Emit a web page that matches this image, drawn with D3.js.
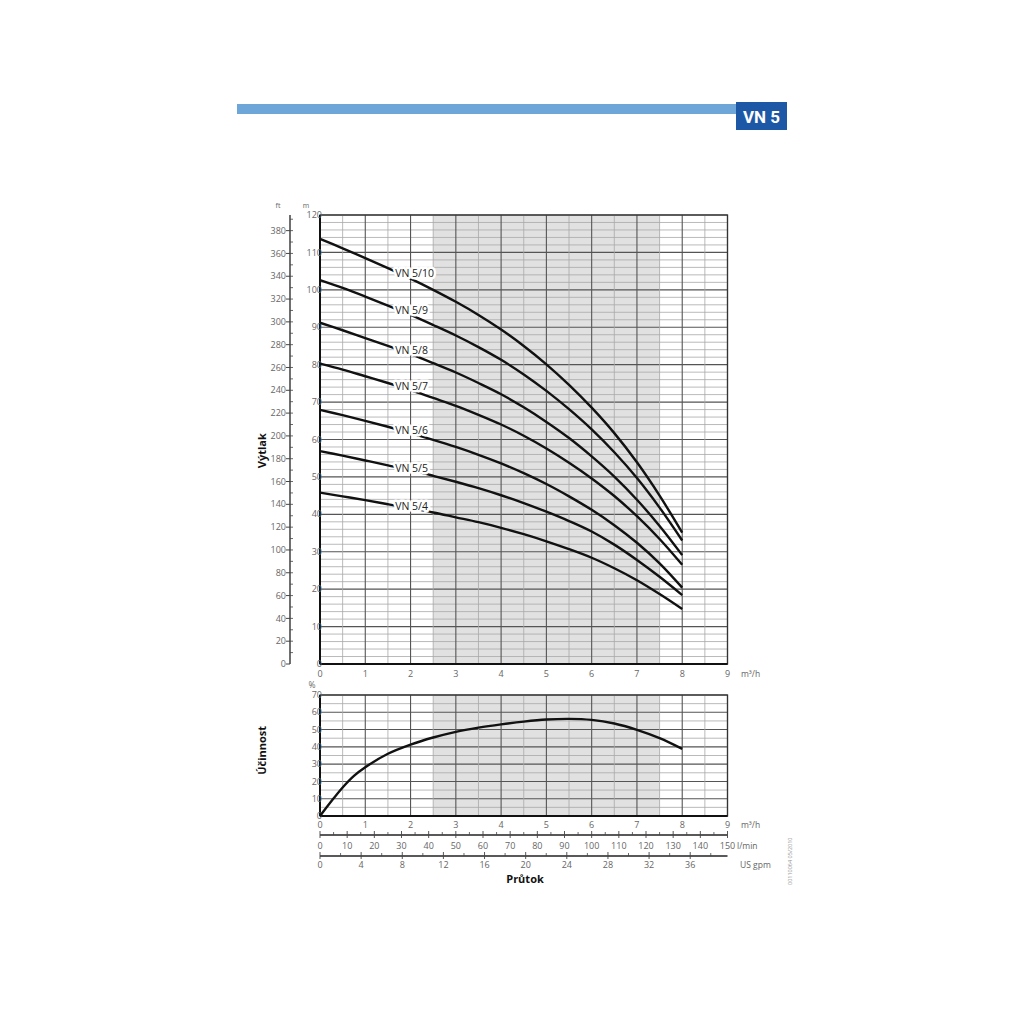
<!DOCTYPE html>
<html>
<head>
<meta charset="utf-8">
<script src="https://cdn.jsdelivr.net/npm/d3@7"></script>
<style>
  body { margin: 0; background: #fff; }
  svg { display: block; font-family: "Open Sans", "DejaVu Sans", sans-serif; }
</style>
</head>
<body>
<svg id="chart" width="1024" height="1024"></svg>
<script>
// flow points (m3/h) where the head curves were read
const flows = [0, 0.5, 1, 1.5, 2, 2.5, 3, 3.5, 4, 4.5, 5, 5.5, 6, 6.5, 7, 7.5, 8];
const pumpNames = ['VN 5/10', 'VN 5/9', 'VN 5/8', 'VN 5/7', 'VN 5/6', 'VN 5/5', 'VN 5/4'];
const head_5_10 = [113.6, 111.1, 108.5, 105.8, 103.0, 100.0, 96.8, 93.3, 89.4, 85.0, 80.1, 74.6, 68.5, 61.7, 53.9, 45.0, 35.1];
const head_5_9  = [102.6, 100.5, 98.2, 95.8, 93.3, 90.6, 87.8, 84.7, 81.3, 77.4, 73.0, 68.1, 62.7, 56.6, 49.7, 41.8, 33.0];
const head_5_8  = [91.2, 89.2, 87.1, 85.0, 82.8, 80.4, 77.9, 75.1, 72.1, 68.6, 64.7, 60.4, 55.5, 50.1, 43.9, 36.9, 29.1];
const head_5_7  = [80.3, 78.7, 76.9, 75.1, 73.2, 71.1, 69.0, 66.6, 64.0, 61.0, 57.6, 53.8, 49.6, 44.9, 39.5, 33.4, 26.5];
const head_5_6  = [67.9, 66.5, 65.0, 63.4, 61.7, 59.9, 58.0, 55.9, 53.6, 51.0, 48.1, 44.8, 41.2, 37.1, 32.4, 26.9, 20.4];
const head_5_5  = [56.9, 55.7, 54.4, 53.1, 51.8, 50.3, 48.7, 47.0, 45.1, 43.0, 40.7, 38.2, 35.4, 31.9, 27.8, 23.3, 18.4];
const head_5_4  = [45.8, 44.8, 43.8, 42.7, 41.6, 40.5, 39.2, 37.9, 36.4, 34.7, 32.8, 30.7, 28.4, 25.6, 22.4, 18.7, 14.7];
const headSeries = [head_5_10, head_5_9, head_5_8, head_5_7, head_5_6, head_5_5, head_5_4];
const labelFlow = 1.75;

// efficiency curve (%)
const effFlows   = [0, 0.25, 0.5, 0.75, 1, 1.5, 2, 2.5, 3, 3.5, 4, 4.5, 5, 5.5, 6, 6.5, 7, 7.5, 8];
const efficiency = [0, 8.5, 16.5, 23.2, 28.2, 36.0, 41.3, 45.4, 48.7, 51.1, 53.0, 54.6, 55.8, 56.2, 55.6, 53.5, 49.8, 45.0, 38.8];

// operating range (shaded)
const rangeFlow = [2.5, 7.5];

// tick labels
const flowTicks = [0, 1, 2, 3, 4, 5, 6, 7, 8, 9];
const headTicksM = [0, 10, 20, 30, 40, 50, 60, 70, 80, 90, 100, 110, 120];
const headTicksFt = [0, 20, 40, 60, 80, 100, 120, 140, 160, 180, 200, 220, 240, 260, 280, 300, 320, 340, 360, 380];
const effTicks = [0, 10, 20, 30, 40, 50, 60, 70];
const lminTicks = [0, 10, 20, 30, 40, 50, 60, 70, 80, 90, 100, 110, 120, 130, 140, 150];
const gpmTicks = [0, 4, 8, 12, 16, 20, 24, 28, 32, 36];

const svg = d3.select('#chart');
const labelColor = '#666';
const plotLeft = 320, plotRight = 727.5;

// header
svg.append('rect').attr('x', 237).attr('y', 104).attr('width', 499).attr('height', 10).attr('fill', '#6fa6d9');
svg.append('rect').attr('x', 736).attr('y', 102).attr('width', 51).attr('height', 28).attr('fill', '#1d58a6');
svg.append('text').attr('x', 761.5).attr('y', 123).attr('text-anchor', 'middle')
   .attr('fill', '#fff').attr('font-size', 17).attr('font-weight', 'bold')
   .attr('font-family', '"Liberation Sans Narrow", "Roboto", sans-serif')
   .text('VN 5');

const x = d3.scaleLinear().domain([0, 9]).range([plotLeft, plotRight]);
const yHead = d3.scaleLinear().domain([0, 120]).range([664, 215]);
const yFt = d3.scaleLinear().domain([0, 120 / 0.3048]).range([664, 215]);
const yEff = d3.scaleLinear().domain([0, 70]).range([816, 695]);
const xLmin = d3.scaleLinear().domain([0, 150]).range([plotLeft, plotRight]);
// 9 m3/h expressed in US gallons per minute
const xGpm = d3.scaleLinear().domain([0, 9 * 1000 / 60 / 3.78541]).range([plotLeft, plotRight]);

function drawGrid(g, yScale, yMinorStep, yMajorStep, yMax) {
  const [y0, y1] = yScale.range();
  // shaded range
  g.append('rect')
    .attr('x', x(rangeFlow[0])).attr('y', y1)
    .attr('width', x(rangeFlow[1]) - x(rangeFlow[0])).attr('height', y0 - y1)
    .attr('fill', '#e1e1e1');
  const hv = d3.range(0, yMax + 0.001, yMinorStep);
  g.selectAll('.hl').data(hv).join('line')
    .attr('x1', plotLeft).attr('x2', plotRight)
    .attr('y1', d => yScale(d)).attr('y2', d => yScale(d))
    .attr('stroke', d => Math.abs(d % yMajorStep) < 1e-6 ? '#555' : '#a8a8a8')
    .attr('stroke-width', d => Math.abs(d % yMajorStep) < 1e-6 ? 1.1 : 0.8);
  const vv = d3.range(0, 9.001, 0.5);
  g.selectAll('.vl').data(vv).join('line')
    .attr('y1', y0).attr('y2', y1)
    .attr('x1', d => x(d)).attr('x2', d => x(d))
    .attr('stroke', d => d % 1 === 0 ? '#555' : '#a8a8a8')
    .attr('stroke-width', d => d % 1 === 0 ? 1.1 : 0.8);
  // frame
  g.append('rect').attr('x', plotLeft).attr('y', y1)
    .attr('width', plotRight - plotLeft).attr('height', y0 - y1)
    .attr('fill', 'none').attr('stroke', '#333').attr('stroke-width', 1.3);
  g.append('line').attr('x1', plotLeft).attr('x2', plotLeft).attr('y1', y0).attr('y2', y1)
    .attr('stroke', '#111').attr('stroke-width', 2);
  g.append('line').attr('x1', plotLeft).attr('x2', plotRight).attr('y1', y0).attr('y2', y0)
    .attr('stroke', '#111').attr('stroke-width', 2);
}

// ---------- head chart ----------
const gHead = svg.append('g');
drawGrid(gHead, yHead, 2, 10, 120);

gHead.selectAll('.ym').data(headTicksM).join('text')
  .attr('x', 322).attr('y', d => yHead(d)).attr('dy', '0.35em')
  .attr('text-anchor', 'end').attr('font-size', 9).attr('fill', labelColor)
  .text(d => d);

gHead.selectAll('.xt').data(flowTicks).join('text')
  .attr('x', d => x(d)).attr('y', 677).attr('text-anchor', 'middle')
  .attr('font-size', 9).attr('fill', labelColor).text(d => d);
gHead.append('text').attr('x', 741).attr('y', 677).attr('font-size', 8.5).attr('fill', labelColor).text('m³/h');

gHead.append('text').attr('x', 306).attr('y', 208).attr('font-size', 7).attr('fill', labelColor).attr('text-anchor', 'middle').text('m');
gHead.append('text').attr('x', 278).attr('y', 208).attr('font-size', 7).attr('fill', labelColor).attr('text-anchor', 'middle').text('ft');

// ft axis
const ftAxis = gHead.append('g').attr('transform', 'translate(290,0)');
ftAxis.append('line').attr('y1', yFt(0)).attr('y2', 215).attr('stroke', '#222').attr('stroke-width', 1.3);
ftAxis.selectAll('.fmin').data(d3.range(10, 391, 10)).join('line')
  .attr('x1', 0).attr('x2', 3).attr('y1', d => yFt(d)).attr('y2', d => yFt(d))
  .attr('stroke', '#444').attr('stroke-width', 0.8);
ftAxis.selectAll('.fmaj').data(headTicksFt).join('line')
  .attr('x1', -4).attr('x2', 0).attr('y1', d => yFt(d)).attr('y2', d => yFt(d))
  .attr('stroke', '#444').attr('stroke-width', 1);
ftAxis.selectAll('.flab').data(headTicksFt).join('text')
  .attr('x', -4).attr('y', d => yFt(d)).attr('dy', '0.35em')
  .attr('text-anchor', 'end').attr('font-size', 9).attr('fill', labelColor)
  .text(d => d);

svg.append('text').attr('transform', `translate(266,${yHead(57)}) rotate(-90)`)
  .attr('text-anchor', 'middle').attr('font-size', 11).attr('font-weight', 'bold')
  .attr('fill', '#111').text('Výtlak');

const line = d3.line().x(d => x(d[0])).y(d => yHead(d[1])).curve(d3.curveCatmullRom.alpha(0.5));
gHead.selectAll('.curve').data(headSeries).join('path')
  .attr('d', s => line(flows.map((f, i) => [f, s[i]])))
  .attr('fill', 'none').attr('stroke', '#111').attr('stroke-width', 2.4);

function valueAt(values, q) {
  const i = d3.bisectRight(flows, q) - 1;
  const t = (q - flows[i]) / (flows[i + 1] - flows[i]);
  return values[i] + t * (values[i + 1] - values[i]);
}
gHead.selectAll('.lab').data(headSeries).join('text')
  .attr('x', x(1.66)).attr('y', s => yHead(valueAt(s, labelFlow))).attr('dy', '0.36em')
  .attr('font-size', 10.5).attr('fill', '#222')
  .attr('stroke', '#fff').attr('stroke-width', 5).attr('paint-order', 'stroke')
  .attr('stroke-linejoin', 'round')
  .text((s, i) => pumpNames[i]);

// ---------- efficiency chart ----------
const gEff = svg.append('g');
drawGrid(gEff, yEff, 5, 10, 70);
gEff.selectAll('.ye').data(effTicks).join('text')
  .attr('x', 322).attr('y', d => yEff(d)).attr('dy', '0.35em')
  .attr('text-anchor', 'end').attr('font-size', 9).attr('fill', labelColor).text(d => d);
gEff.append('text').attr('x', 312).attr('y', 688).attr('font-size', 8.5).attr('fill', labelColor).attr('text-anchor', 'middle').text('%');

const effLine = d3.line().x(d => x(d[0])).y(d => yEff(d[1])).curve(d3.curveCatmullRom.alpha(0.5));
gEff.append('path')
  .attr('d', effLine(effFlows.map((f, i) => [f, efficiency[i]])))
  .attr('fill', 'none').attr('stroke', '#111').attr('stroke-width', 2.4);

svg.append('text').attr('transform', `translate(266,${yEff(38)}) rotate(-90)`)
  .attr('text-anchor', 'middle').attr('font-size', 11).attr('font-weight', 'bold')
  .attr('fill', '#111').text('Účinnost');

gEff.selectAll('.xe').data(flowTicks).join('text')
  .attr('x', d => x(d)).attr('y', 828).attr('text-anchor', 'middle')
  .attr('font-size', 9).attr('fill', labelColor).text(d => d);
gEff.append('text').attr('x', 741).attr('y', 828).attr('font-size', 8.5).attr('fill', labelColor).text('m³/h');

// l/min axis
const gL = svg.append('g');
gL.append('line').attr('x1', plotLeft).attr('x2', plotRight).attr('y1', 835).attr('y2', 835)
  .attr('stroke', '#222').attr('stroke-width', 1.3);
gL.selectAll('.lmin').data(d3.range(5, 150, 10)).join('line')
  .attr('x1', d => xLmin(d)).attr('x2', d => xLmin(d)).attr('y1', 835).attr('y2', 832)
  .attr('stroke', '#444').attr('stroke-width', 0.8);
gL.selectAll('.lmaj').data(lminTicks).join('line')
  .attr('x1', d => xLmin(d)).attr('x2', d => xLmin(d)).attr('y1', 831).attr('y2', 838)
  .attr('stroke', '#444').attr('stroke-width', 0.9);
gL.selectAll('.llab').data(lminTicks).join('text')
  .attr('x', d => xLmin(d)).attr('y', 849).attr('text-anchor', 'middle')
  .attr('font-size', 9).attr('fill', labelColor).text(d => d);
gL.append('text').attr('x', 737).attr('y', 849).attr('font-size', 8.5).attr('fill', labelColor).text('l/min');

// US gpm axis
const gG = svg.append('g');
gG.append('line').attr('x1', plotLeft).attr('x2', plotRight).attr('y1', 856).attr('y2', 856)
  .attr('stroke', '#222').attr('stroke-width', 1.3);
gG.selectAll('.gmin').data(d3.range(2, 39, 4)).join('line')
  .attr('x1', d => xGpm(d)).attr('x2', d => xGpm(d)).attr('y1', 856).attr('y2', 853)
  .attr('stroke', '#444').attr('stroke-width', 0.8);
gG.selectAll('.gmaj').data(gpmTicks).join('line')
  .attr('x1', d => xGpm(d)).attr('x2', d => xGpm(d)).attr('y1', 852).attr('y2', 859)
  .attr('stroke', '#444').attr('stroke-width', 0.9);
gG.selectAll('.glab').data(gpmTicks).join('text')
  .attr('x', d => xGpm(d)).attr('y', 868).attr('text-anchor', 'middle')
  .attr('font-size', 9).attr('fill', labelColor).text(d => d);
gG.append('text').attr('x', 740).attr('y', 868).attr('font-size', 8.5).attr('fill', labelColor).text('US gpm');

svg.append('text').attr('x', 525).attr('y', 883).attr('text-anchor', 'middle')
  .attr('font-size', 11).attr('font-weight', 'bold').attr('fill', '#111').text('Průtok');

svg.append('text').attr('transform', 'translate(792,885) rotate(-90)')
  .attr('font-size', 5.5).attr('fill', '#999').text('00110064 05/2010');
</script>
</body>
</html>
